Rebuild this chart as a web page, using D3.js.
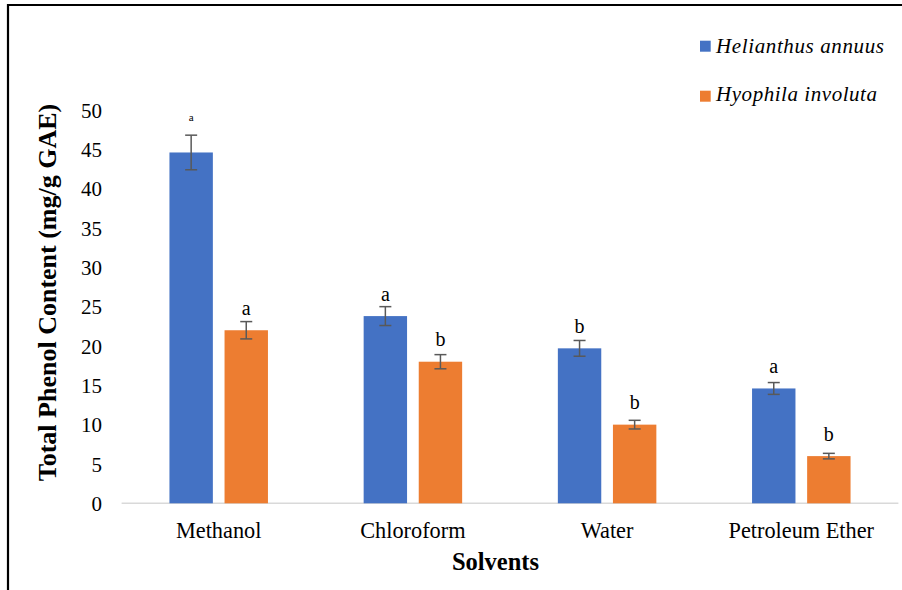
<!DOCTYPE html>
<html>
<head>
<meta charset="utf-8">
<script src="https://cdn.jsdelivr.net/npm/d3@7"></script>
<style>
  html, body { margin: 0; padding: 0; background: #ffffff; }
  svg { display: block; font-family: "Liberation Serif", "Times New Roman", serif; }
</style>
</head>
<body>
<svg id="chart" width="902" height="590"></svg>
<script>
// Solvent extraction categories
const categories = ["Methanol", "Chloroform", "Water", "Petroleum Ether"];
const seriesNames = ["Helianthus annuus", "Hyophila involuta"];

// Total phenol content (mg/g GAE) and standard errors
const helianthusValues = [44.6, 23.8, 19.7, 14.6];
const hyophilaValues = [22.0, 18.0, 10.0, 6.0];
const helianthusErrors = [2.2, 1.2, 1.0, 0.75];
const hyophilaErrors = [1.1, 0.9, 0.55, 0.35];

// Significance letters
const helianthusLetters = ["a", "a", "b", "a"];
const hyophilaLetters = ["a", "b", "b", "b"];

const yTicks = [0, 5, 10, 15, 20, 25, 30, 35, 40, 45, 50];
const colors = ["#4472C4", "#ED7D31"];
const serif = "'Liberation Serif', 'Times New Roman', serif";

const svg = d3.select("#chart");

// Outer frame (left and top edges)
svg.append("path")
  .attr("d", "M8,590 L8,5 L902,5")
  .attr("fill", "none")
  .attr("stroke", "#000")
  .attr("stroke-width", 2.2);

const x0 = d3.scaleBand().domain(categories).range([121.6, 898.4]).padding(0);
const x1 = d3.scaleBand().domain(seriesNames).range([-49.25, 49.25]).paddingInner(0.212).paddingOuter(0);
const y = d3.scaleLinear().domain([0, 50]).range([503.3, 110]);

const rows = categories.map((c, i) => ({
  category: c,
  bars: [
    { series: seriesNames[0], value: helianthusValues[i], err: helianthusErrors[i], letter: helianthusLetters[i], idx: 0 },
    { series: seriesNames[1], value: hyophilaValues[i], err: hyophilaErrors[i], letter: hyophilaLetters[i], idx: 1 }
  ]
}));
const maxValue = d3.max(helianthusValues.concat(hyophilaValues));

// Y axis labels only
const yAxis = svg.append("g")
  .attr("transform", "translate(102,0)")
  .call(d3.axisLeft(y).tickValues(yTicks).tickSize(0).tickPadding(0).tickFormat(d3.format("d")));
yAxis.attr("font-family", serif);
yAxis.select(".domain").remove();
yAxis.selectAll("text")
  .attr("font-size", 21)
  .attr("fill", "#000")
  .attr("dy", "0.34em");

// Baseline
svg.append("line")
  .attr("x1", x0.range()[0]).attr("x2", x0.range()[1])
  .attr("y1", y(0)).attr("y2", y(0))
  .attr("stroke", "#d9d9d9")
  .attr("stroke-width", 1.5);

const groups = svg.selectAll("g.cat")
  .data(rows)
  .join("g")
  .attr("class", "cat")
  .attr("transform", d => `translate(${x0(d.category) + x0.bandwidth() / 2},0)`);

const bars = groups.selectAll("g.bar")
  .data(d => d.bars)
  .join("g")
  .attr("class", "bar");

bars.append("rect")
  .attr("x", d => x1(d.series))
  .attr("width", x1.bandwidth())
  .attr("y", d => y(d.value))
  .attr("height", d => y(0) - y(d.value))
  .attr("fill", d => colors[d.idx]);

// Error bars
const cx = d => x1(d.series) + x1.bandwidth() / 2;
bars.append("line")
  .attr("x1", cx).attr("x2", cx)
  .attr("y1", d => y(d.value + d.err)).attr("y2", d => y(d.value - d.err))
  .attr("stroke", "#595959").attr("stroke-width", 1.5);
bars.append("line")
  .attr("x1", d => cx(d) - 6).attr("x2", d => cx(d) + 6)
  .attr("y1", d => y(d.value + d.err)).attr("y2", d => y(d.value + d.err))
  .attr("stroke", "#595959").attr("stroke-width", 1.5);
bars.append("line")
  .attr("x1", d => cx(d) - 6).attr("x2", d => cx(d) + 6)
  .attr("y1", d => y(d.value - d.err)).attr("y2", d => y(d.value - d.err))
  .attr("stroke", "#595959").attr("stroke-width", 1.5);

// Significance letters above bars (the tallest bar carries a smaller one)
bars.append("text")
  .attr("x", cx)
  .attr("y", d => y(d.value) - (d.value === maxValue ? 31 : 15.5))
  .attr("text-anchor", "middle")
  .attr("font-size", d => d.value === maxValue ? 11 : 20)
  .attr("fill", "#000")
  .text(d => d.letter);

// Category labels
svg.append("g").selectAll("text")
  .data(categories)
  .join("text")
  .attr("x", d => x0(d) + x0.bandwidth() / 2)
  .attr("y", 538.3)
  .attr("text-anchor", "middle")
  .attr("font-size", 22.3)
  .attr("fill", "#000")
  .text(d => d);

// Axis titles
svg.append("text")
  .attr("x", 495.5)
  .attr("y", 570)
  .attr("text-anchor", "middle")
  .attr("font-size", 24.5)
  .attr("font-weight", "bold")
  .attr("fill", "#000")
  .text("Solvents");

svg.append("text")
  .attr("transform", "translate(56,292.5) rotate(-90)")
  .attr("text-anchor", "middle")
  .attr("font-size", 26)
  .attr("font-weight", "bold")
  .attr("fill", "#000")
  .text("Total Phenol Content (mg/g GAE)");

// Legend
const legend = svg.append("g").selectAll("g")
  .data(seriesNames)
  .join("g")
  .attr("transform", (d, i) => `translate(700,${40.7 + i * 50})`);
legend.append("rect")
  .attr("width", 10.7).attr("height", 11)
  .attr("fill", (d, i) => colors[i]);
legend.append("text")
  .attr("x", 16)
  .attr("y", (d, i) => i === 0 ? 11.8 : 10.5)
  .attr("font-size", 21)
  .attr("font-style", "italic")
  .attr("fill", "#000")
  .attr("textLength", (d, i) => i === 0 ? 168 : 161)
  .attr("lengthAdjust", "spacing")
  .text(d => d);
</script>
</body>
</html>
